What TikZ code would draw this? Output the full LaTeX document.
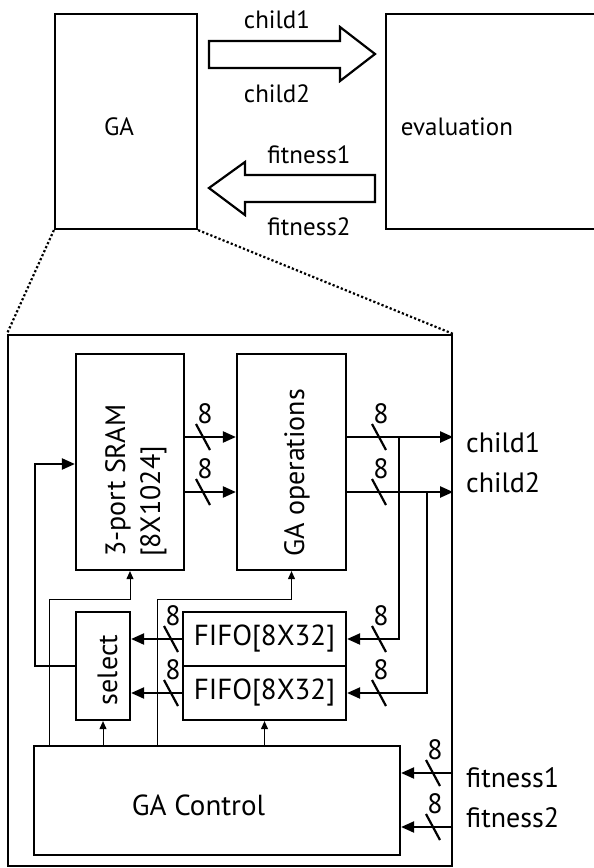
\documentclass[tikz,border=0pt]{standalone}
\usepackage{fontspec}
\setmainfont{PT Sans}
\usetikzlibrary{arrows.meta,calc}
\newcommand\busmark[3]{%
  \draw[thk] (#1-7,#2-13) -- (#1+7,#2+13);
  \node[lbl,anchor=center] (#3) at (#1+2,#2-23) {8};}
\begin{document}
\begin{tikzpicture}[x=1pt,y=-1pt,
  thk/.style={line width=2.2pt},
  thn/.style={line width=1pt},
  blk/.style={draw,line width=2.2pt,inner sep=0pt},
  bigarr/.style={-{Triangle[length=13pt,width=11pt]}},
  smarr/.style={-{Triangle[length=8pt,width=7pt]}},
  lbl/.style={inner sep=0pt,font=\fontsize{28}{34}\selectfont},
  toplbl/.style={inner sep=0pt,font=\fontsize{25}{30}\selectfont},
  dots/.style={line width=2.2pt,dash pattern=on 2.2pt off 2.2pt},
  blockarrow/.style={line width=2.2pt,line join=miter}
]
\useasboundingbox (0,0) rectangle (594,868);

% ---------- top level ----------
\node[blk,minimum width=142pt,minimum height=215pt] (ga) at (126,121.5) {};
\node[toplbl,anchor=base] (galbl) at (119,135) {GA};
\draw[thk] (600,14) -- (386,14) -- (386,229) -- (600,229);
\node[toplbl,anchor=base] (evallbl) at (457,135) {evaluation};

\draw[blockarrow] (209,41) -- (340,41) -- (340,27) -- (375,54) -- (340,81) -- (340,68) -- (209,68) -- cycle;
\draw[blockarrow] (375,175) -- (245,175) -- (245,162) -- (209,188) -- (245,215) -- (245,202) -- (375,202) -- cycle;
\node[toplbl,anchor=base] (tc1) at (277,28) {child1};
\node[toplbl,anchor=base] (tc2) at (277,102) {child2};
\node[toplbl,anchor=base] (tf1) at (309,163) {fitness1};
\node[toplbl,anchor=base] (tf2) at (309,235) {fitness2};

% ---------- zoomed block ----------
\node[blk,minimum width=444pt,minimum height=531pt] (big) at (230,600.5) {};
\draw[dots] (ga.south west) -- (big.north west);
\draw[dots] (ga.south east) -- (big.north east);

\node[blk,minimum width=108pt,minimum height=216pt] (sram) at (130,462) {};
\node[lbl,rotate=90,anchor=base west] (sramt1) at (125,557) {3-port SRAM};
\node[lbl,rotate=90,anchor=base west] (sramt2) at (160,557) {[8X1024]};

\node[blk,minimum width=109pt,minimum height=216pt] (gaop) at (291.5,462) {};
\node[lbl,rotate=90,anchor=base west] (gaopt) at (304,557) {GA operations};

\node[blk,minimum width=54pt,minimum height=108pt] (sel) at (103,666) {};
\node[lbl,rotate=90,anchor=base] (selt) at (117,670) {select};

\node[blk,minimum width=163pt,minimum height=54pt,font=\fontsize{29}{34}\selectfont] (fifo1) at (264.5,639) {FIFO[8X32]};
\node[blk,minimum width=163pt,minimum height=54pt,font=\fontsize{29}{34}\selectfont] (fifo2) at (264.5,693) {FIFO[8X32]};

\node[blk,minimum width=366pt,minimum height=109pt] (ctrl) at (217,800.5) {};
\node[lbl,anchor=base,font=\fontsize{29}{34}\selectfont] (ctrlt) at (198.5,815) {GA Control};

% helper levels
\coordinate (r1) at (0,437);
\coordinate (r2) at (0,492);
\coordinate (fb) at (0,464);
\coordinate (h1) at (0,599);
\coordinate (f1) at (0,773);
\coordinate (f2) at (0,827);
\coordinate (j1) at (399,437);
\coordinate (j2) at (427,492);
\coordinate (v1) at (49,0);
\coordinate (v2) at (157,0);

% SRAM -> GA operations
\draw[thk,bigarr] (sram.east |- r1) -- (gaop.west |- r1);
\draw[thk,bigarr] (sram.east |- r2) -- (gaop.west |- r2);
\busmark{203}{437}{b1}
\busmark{203}{492}{b2}

% GA operations -> outputs
\draw[thk,bigarr] (gaop.east |- r1) -- (big.east |- r1);
\draw[thk,bigarr] (gaop.east |- r2) -- (big.east |- r2);
\busmark{379}{437}{b3}
\busmark{379}{492}{b4}
\node[lbl,anchor=base west] (oc1) at (466,452) {child1};
\node[lbl,anchor=base west] (oc2) at (466,492) {child2};

% outputs -> FIFOs
\draw[thk,bigarr] (j1) |- (fifo1.east);
\draw[thk,bigarr] (j2) |- (fifo2.east);
\busmark{379}{639}{b5}
\busmark{379}{693}{b6}

% FIFOs -> select
\draw[thk,bigarr] (fifo1.west) -- (sel.east |- fifo1.west);
\draw[thk,bigarr] (fifo2.west) -- (sel.east |- fifo2.west);
\busmark{171}{639}{b7}
\busmark{171}{693}{b8}

% select -> SRAM feedback
\draw[thk,bigarr] (sel.west) -- ++(-40,0) |- (sram.west |- fb);

% GA Control -> blocks
\draw[thn,smarr] (ctrl.north -| sel.south) -- (sel.south);
\draw[thn,smarr] (ctrl.north -| fifo2.south) -- (fifo2.south);
\draw[thn,smarr] (ctrl.north -| v1) -- (v1 |- h1) -| (sram.south);
\draw[thn,smarr] (ctrl.north -| v2) -- (v2 |- h1) -| (gaop.south);

% fitness inputs
\draw[thk,bigarr] (big.east |- f1) -- (ctrl.east |- f1);
\draw[thk,bigarr] (big.east |- f2) -- (ctrl.east |- f2);
\busmark{433}{773}{b9}
\busmark{433}{827}{b10}
\node[lbl,anchor=base west] (of1) at (466,787) {fitness1};
\node[lbl,anchor=base west] (of2) at (466,827) {fitness2};
\end{tikzpicture}
\end{document}
